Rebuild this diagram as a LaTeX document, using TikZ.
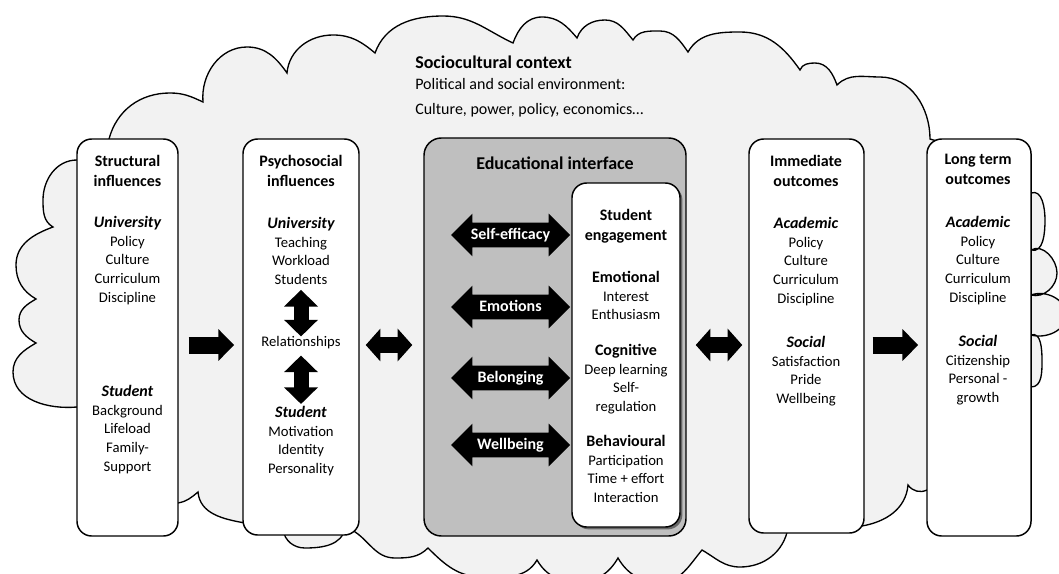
\documentclass[tikz,border=0pt]{standalone}
\usepackage{fontspec}
\setmainfont{Carlito}
\usepackage{tikz}
\usetikzlibrary{shapes.arrows, arrows.meta, positioning, shadows}
\definecolor{cloudfill}{RGB}{242,242,242}
\definecolor{panelfill}{RGB}{191,191,191}
\definecolor{mydark}{RGB}{0,0,0}
\newcommand{\grouphead}[1]{{\fontsize{12}{14}\selectfont\bfseries\itshape #1}}
\newcommand{\subhead}[1]{{\fontsize{12}{14}\selectfont\bfseries #1}}
\tikzset{
  box/.style={rectangle, draw=mydark, fill=white, rounded corners=11pt,
    line width=1.1pt, inner sep=0pt},
  panel/.style={rectangle, draw=mydark, fill=panelfill, rounded corners=13pt,
    line width=1.1pt, inner sep=0pt},
  titletext/.style={anchor=north, align=center, inner sep=0pt,
    font=\bfseries\fontsize{12}{15}\selectfont},
  bodytext/.style={anchor=north, align=center, inner sep=0pt,
    font=\fontsize{11}{14}\selectfont},
  cloudline/.style={draw=mydark, fill=cloudfill, line width=1pt},
  fatarrow/.style={line width=12.75pt, color=mydark,
    -{Triangle[length=12pt,width=23.25pt]}},
  fatdarrow/.style={line width=12pt, color=mydark,
    {Triangle[length=11pt,width=24pt]}-{Triangle[length=11pt,width=24pt]}},
  vdarrow/.style={line width=11.25pt, color=mydark,
    {Triangle[length=12.5pt,width=24.75pt]}-{Triangle[length=12.5pt,width=24.75pt]}},
  feelarrow/.style={double arrow, draw=none, fill=mydark, text=white,
    font=\bfseries\fontsize{12}{14}\selectfont,
    double arrow head extend=6.75pt, double arrow tip angle=90,
    minimum height=89.25pt, text height=9pt, text depth=2.5pt,
    inner ysep=3.25pt, inner xsep=0pt}
}

\begin{document}
\begin{tikzpicture}[x=0.75pt, y=0.75pt]
  \useasboundingbox (0,0) rectangle (1059,-574);
  \clip (0,0) rectangle (1059,-574);

  % the context cloud behind everything
  \draw[cloudline] (100,-150) -- (109,-139)
    to[out=75,in=180] (170,-93) to[out=0,in=155] (203,-102)
    to[out=95,in=180] (247,-47) to[out=0,in=125] (287,-73)
    to[out=85,in=180] (333,-35) to[out=0,in=140] (375,-53)
    to[out=70,in=180] (443,-16) to[out=0,in=155] (513,-43)
    to[out=70,in=180] (542,-17) to[out=0,in=130] (577,-38)
    to[out=70,in=180] (605,-20) to[out=0,in=130] (633,-40)
    to[out=60,in=180] (660,-31) to[out=0,in=125] (688,-52)
    to[out=60,in=180] (740,-32) to[out=0,in=125] (800,-70)
    to[out=70,in=180] (815,-63) to[out=0,in=110] (837,-85)
    to[out=45,in=180] (880,-77) to[out=0,in=90] (930,-139)
    -- (1000,-160) -- (1031,-193)
    to[out=20,in=90] (1045,-220) to[out=-90,in=-15] (1031,-250)
    to[out=30,in=90] (1057,-273) to[out=-90,in=-15] (1031,-295)
    to[out=20,in=90] (1066,-315) to[out=-90,in=-15] (1031,-335)
    to[out=20,in=90] (1042,-360) to[out=-90,in=0] (1031,-387)
    -- (1000,-450) -- (927,-490)
    to[bend left=40] (908,-485)
    to[out=-95,in=10] (862,-526)
    -- (788,-528)
    to[out=-100,in=0] (740,-567) to[out=180,in=-30] (702,-550)
    to[out=-130,in=0] (660,-582) to[out=180,in=-60] (618,-558)
    to[out=-120,in=0] (578,-582) to[out=180,in=-60] (537,-560)
    to[out=-120,in=0] (483,-577) to[out=180,in=-45] (428,-548)
    to[out=-135,in=0] (395,-558) to[out=180,in=-30] (352,-530)
    -- (345,-528)
    to[out=-100,in=0] (305,-548) to[out=180,in=-80] (283,-530)
    -- (245,-523)
    to[out=170,in=-85] (198,-492)
    to[out=-140,in=10] (178,-503)
    -- (120,-480) -- (77,-407)
    to[out=185,in=-90] (13,-372) to[out=90,in=210] (36,-343)
    to[out=150,in=-90] (19,-320) to[out=90,in=210] (36,-299)
    to[out=150,in=-90] (16,-265) to[out=90,in=200] (53,-227)
    to[out=150,in=-90] (43,-200) to[out=90,in=180] (77,-160)
    -- cycle;

  \node[anchor=west, inner sep=0pt, font=\bfseries\fontsize{13.5}{16}\selectfont]
    (ctxhead) at (415,-62) {Sociocultural context};
  \node[anchor=north west, align=left, inner sep=0pt, font=\fontsize{12}{18.75}\selectfont]
    (ctxtext) at (415,-78) {Political and social environment:\\Culture, power, policy, economics…};

  % the five columns
  \node[box, minimum width=75.75pt, minimum height=297.75pt] (struct) at (127.5,-337.5) {};
  \node[box, minimum width=87pt, minimum height=297pt] (psych) at (301,-337) {};
  \node[panel, minimum width=196.5pt, minimum height=298.5pt] (edu) at (555,-337) {};
  \node[box, minimum width=81pt, minimum height=258pt,
    drop shadow={shadow xshift=1.8pt, shadow yshift=-1.8pt, fill=black!60, opacity=1}]
    (eng) at (626,-355) {};
  \node[box, minimum width=86.25pt, minimum height=295.5pt] (immed) at (806.5,-336) {};
  \node[box, minimum width=78pt, minimum height=297.75pt] (longt) at (979,-337.5) {};

  % structural influences
  \node[titletext] (structhead) at (127.5,-155) {Structural\\influences};
  \node[bodytext] (structuni) at (127.5,-216) {\grouphead{University}\\Policy\\Culture\\Curriculum\\Discipline};
  \node[bodytext] (structstu) at (127.5,-385) {\grouphead{Student}\\Background\\Lifeload\\Family-\\Support};

  % psychosocial influences
  \node[titletext] (psychhead) at (301,-155) {Psychosocial\\influences};
  \node[bodytext] (psychuni) at (301,-217) {\grouphead{University}\\Teaching\\Workload\\Students};
  \node[inner sep=0pt, font=\fontsize{11}{14}\selectfont] (rel) at (301,-343) {Relationships};
  \node[bodytext] (psychstu) at (301,-406) {\grouphead{Student}\\Motivation\\Identity\\Personality};
  \draw[vdarrow, shorten <=3.75pt, shorten >=0pt] (psychuni.south) -- (rel.north);
  \draw[vdarrow, shorten <=4.5pt, shorten >=1.5pt] (rel.south) -- (psychstu.north);

  % educational interface
  \node[inner sep=0pt, font=\bfseries\fontsize{13.5}{16}\selectfont] (eduhead) at (555,-163) {Educational interface};
  \node[titletext] (enghead) at (626,-209) {Student\\engagement};
  \node[bodytext] (engemo) at (626,-271) {\subhead{Emotional}\\Interest\\Enthusiasm};
  \node[bodytext] (engcog) at (626,-344) {\subhead{Cognitive}\\Deep learning\\Self-\\regulation};
  \node[bodytext] (engbeh) at (626,-435) {\subhead{Behavioural}\\Participation\\Time + effort\\Interaction};
  \node[feelarrow] (selfeff) at (510.5,-235) {Self-efficacy};
  \node[feelarrow] (emotions) at (510.5,-307) {Emotions};
  \node[feelarrow] (belonging) at (510.5,-378) {Belonging};
  \node[feelarrow] (wellbeing) at (510.5,-445) {Wellbeing};

  % immediate outcomes
  \node[titletext] (immhead) at (806,-155) {Immediate\\outcomes};
  \node[bodytext] (immacad) at (806,-217) {\grouphead{Academic}\\Policy\\Culture\\Curriculum\\Discipline};
  \node[bodytext] (immsoc) at (806,-336) {\grouphead{Social}\\Satisfaction\\Pride\\Wellbeing};

  % long term outcomes
  \node[titletext] (longhead) at (978,-154) {Long term\\outcomes};
  \node[bodytext] (longacad) at (978,-216) {\grouphead{Academic}\\Policy\\Culture\\Curriculum\\Discipline};
  \node[bodytext] (longsoc) at (978,-335) {\grouphead{Social}\\Citizenship\\Personal -\\growth};

  % block arrows between the columns
  \coordinate (axis) at (0,-345);
  \draw[fatarrow, shorten <=7.5pt, shorten >=6pt] (struct.east |- axis) -- (psych.west |- axis);
  \draw[fatdarrow, shorten <=4.5pt, shorten >=8.25pt] (psych.east |- axis) -- (edu.west |- axis);
  \draw[fatdarrow, shorten <=6.75pt, shorten >=4.5pt] (edu.east |- axis) -- (immed.west |- axis);
  \draw[fatarrow, shorten <=6pt, shorten >=6pt] (immed.east |- axis) -- (longt.west |- axis);
\end{tikzpicture}
\end{document}
